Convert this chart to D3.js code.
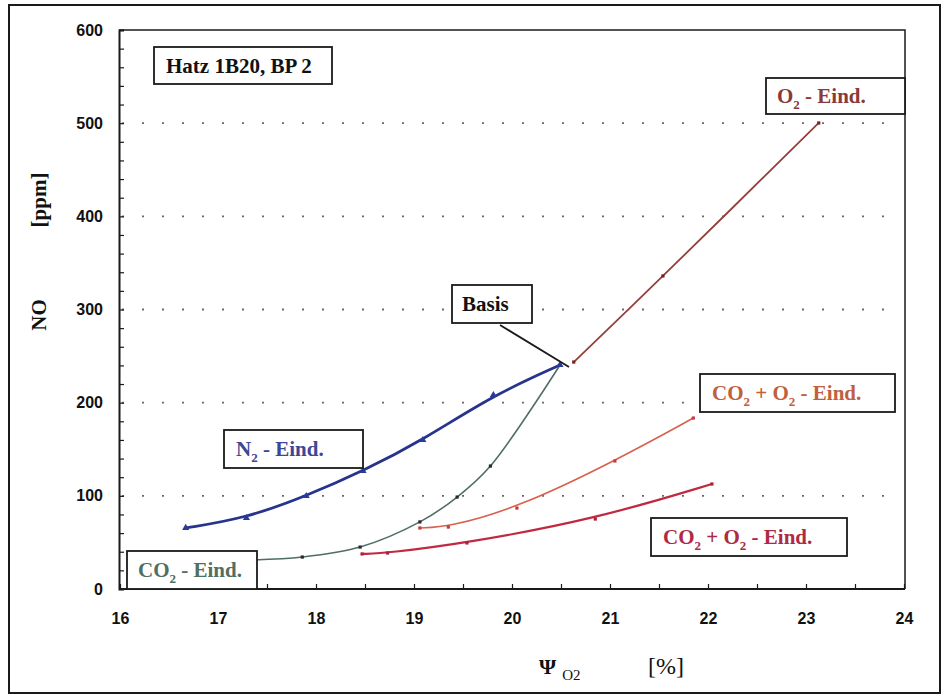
<!DOCTYPE html>
<html>
<head>
<meta charset="utf-8">
<script src="https://cdn.jsdelivr.net/npm/d3@7"></script>
<style>
  html, body { margin: 0; padding: 0; background: #fff; }
  svg { display: block; }
  .serif { font-family: "Liberation Serif", "DejaVu Serif", serif; }
  .sans { font-family: "Liberation Sans", Arial, sans-serif; }
</style>
</head>
<body>
<svg id="chart" width="943" height="697"></svg>
<script>
// NO emission vs. intake O2 concentration, Hatz 1B20, operating point 2

// axis ticks
const xMajorTicks = [16, 17, 18, 19, 20, 21, 22, 23, 24];
const yMajorTicks = [0, 100, 200, 300, 400, 500, 600];
const gridValues = [100, 200, 300, 400, 500];

// N2 enrichment
const n2X = [16.67, 17.29, 17.90, 18.48, 19.09, 19.81, 20.49];
const n2Y = [65.5, 76.2, 99.8, 126.6, 159.9, 208.2, 240.4];

// CO2 enrichment
const co2X = [17.30, 17.86, 18.45, 19.06, 19.44, 19.78, 20.49];
const co2Y = [31.0, 34.3, 45.0, 72.0, 98.7, 132.0, 240.4];

// O2 enrichment
const o2X = [20.63, 21.54, 23.13];
const o2Y = [243.6, 336.0, 500.2];

// CO2 + O2 enrichment, upper branch
const co2o2aX = [19.06, 19.35, 20.05, 21.05, 21.85];
const co2o2aY = [65.5, 66.5, 86.9, 137.4, 183.5];

// CO2 + O2 enrichment, lower branch
const co2o2bX = [18.47, 18.73, 19.54, 20.85, 22.04];
const co2o2bY = [37.6, 38.6, 49.4, 75.1, 112.7];

const zip = (xs, ys) => xs.map((x, i) => ({ x, y: ys[i] }));

const smooth = d3.curveCatmullRom.alpha(0.5);
const series = [
  { key: "co2",    pts: zip(co2X, co2Y),       curve: smooth,         color: "#4f6f60", width: 1.6, marker: "dot", markerColor: "#2a2a2a" },
  { key: "co2o2a", pts: zip(co2o2aX, co2o2aY), curve: d3.curveBasis,  color: "#d8604e", width: 1.6, marker: "dot", markerColor: "#c8383a" },
  { key: "co2o2b", pts: zip(co2o2bX, co2o2bY), curve: d3.curveBasis,  color: "#bf2a40", width: 2.2, marker: "dot", markerColor: "#b0203a" },
  { key: "o2",     pts: zip(o2X, o2Y),         curve: smooth,         color: "#93403a", width: 1.8, marker: "dot", markerColor: "#7a1f22" },
  { key: "n2",     pts: zip(n2X, n2Y),         curve: d3.curveBasis,  color: "#27348c", width: 2.8, marker: "tri", markerColor: "#2a3a9a" }
];

const svg = d3.select("#chart");

const plot = { left: 119, right: 905, top: 30, bottom: 589 };
const x = d3.scaleLinear().domain([16, 24]).range([120, 904]);
const y = d3.scaleLinear().domain([0, 600]).range([plot.bottom, plot.top]);

// outer frame
svg.append("rect")
  .attr("x", 9).attr("y", 5).attr("width", 931).attr("height", 688)
  .attr("fill", "none").attr("stroke", "#1a1a1a").attr("stroke-width", 2);

// dotted grid
svg.append("g").selectAll("line").data(gridValues).join("line")
  .attr("x1", plot.left + 3).attr("x2", plot.right - 6)
  .attr("y1", d => y(d)).attr("y2", d => y(d))
  .attr("stroke", "#6a6a6a").attr("stroke-width", 1.8)
  .attr("stroke-dasharray", "2,18");

// plot frame top/right
svg.append("path")
  .attr("d", `M${plot.left},${plot.top}H${plot.right}V${plot.bottom}`)
  .attr("fill", "none").attr("stroke", "#1a1a1a").attr("stroke-width", 1.5);

// y axis
const yMinor = d3.range(0, 601, 20);
const yAxis = svg.append("g")
  .attr("transform", `translate(${plot.left},0)`)
  .call(d3.axisLeft(y).tickValues(yMinor).tickSize(-5).tickPadding(16)
    .tickFormat(d => yMajorTicks.includes(d) ? d : ""));
yAxis.select(".domain").attr("stroke", "#1a1a1a").attr("stroke-width", 2);
yAxis.selectAll(".tick line").attr("stroke", "#1a1a1a").attr("stroke-width", 1.2);
yAxis.selectAll(".tick text")
  .attr("class", "sans").attr("font-size", 16).attr("font-weight", "bold").attr("fill", "#111");

// x axis
const xMinor = d3.range(16, 24.01, 0.5);
const xAxis = svg.append("g")
  .attr("transform", `translate(0,${plot.bottom})`)
  .call(d3.axisBottom(x).tickValues(xMinor).tickSize(-5).tickPadding(24)
    .tickFormat(d => xMajorTicks.includes(d) ? d : ""));
xAxis.select(".domain").attr("stroke", "#1a1a1a").attr("stroke-width", 2)
  .attr("d", `M${plot.left},0H${plot.right}`);
xAxis.selectAll(".tick line").attr("stroke", "#1a1a1a").attr("stroke-width", 1.2);
xAxis.selectAll(".tick text")
  .attr("class", "sans").attr("font-size", 16).attr("font-weight", "bold").attr("fill", "#111");

// smoothed trend curves through the measured points
const curves = svg.append("g");
series.forEach(s => {
  const line = d3.line().x(d => x(d.x)).y(d => y(d.y)).curve(s.curve);
  curves.append("path").datum(s.pts)
    .attr("d", line).attr("fill", "none")
    .attr("stroke", s.color).attr("stroke-width", s.width)
    .attr("stroke-linejoin", "round").attr("stroke-linecap", "round");
});

// markers
const tri = d3.symbol().type(d3.symbolTriangle).size(22);
series.forEach(s => {
  const g = svg.append("g");
  if (s.marker === "tri") {
    g.selectAll("path").data(s.pts).join("path")
      .attr("d", tri).attr("transform", d => `translate(${x(d.x)},${y(d.y)})`)
      .attr("fill", s.markerColor);
  } else {
    g.selectAll("rect").data(s.pts).join("rect")
      .attr("x", d => x(d.x) - 1.6).attr("y", d => y(d.y) - 1.6)
      .attr("width", 3.2).attr("height", 3.2)
      .attr("fill", s.markerColor);
  }
});

// pointer to the base operating point
const basis = n2X.length - 1;
svg.append("line")
  .attr("x1", 500).attr("y1", 325)
  .attr("x2", x(n2X[basis]) + 9).attr("y2", y(n2Y[basis]) + 2)
  .attr("stroke", "#1a1a1a").attr("stroke-width", 1.8);

// labelled boxes; parts with "sub" are set as subscripts
function labelBox(bx, by, bw, bh, color, size, parts, tx) {
  const g = svg.append("g");
  g.append("rect").attr("x", bx).attr("y", by).attr("width", bw).attr("height", bh)
    .attr("fill", "#fff").attr("stroke", "#1a1a1a").attr("stroke-width", 1.8);
  const t = g.append("text").attr("class", "serif")
    .attr("x", tx).attr("y", by + bh / 2 + size * 0.34)
    .attr("font-size", size).attr("font-weight", "bold").attr("fill", color);
  const shift = size * 0.28;
  let lowered = false;
  parts.forEach(p => {
    if (p.sub) {
      t.append("tspan").attr("font-size", size * 0.62).attr("dy", shift).text(p.sub);
      lowered = true;
    } else {
      const ts = t.append("tspan").text(p.t);
      if (lowered) { ts.attr("dy", -shift); lowered = false; }
    }
  });
}

labelBox(154, 47, 178, 37, "#111", 21, [{ t: "Hatz 1B20, BP 2" }], 166);
labelBox(224, 430, 139, 38, "#3c4896", 21, [{ t: "N" }, { sub: "2" }, { t: " - Eind." }], 236);
labelBox(127, 551, 130, 38, "#4f6f60", 21, [{ t: "CO" }, { sub: "2" }, { t: " - Eind." }], 138);
labelBox(766, 78, 139, 36, "#8a3a38", 21, [{ t: "O" }, { sub: "2" }, { t: " - Eind." }], 777);
labelBox(700, 374, 195, 38, "#c0603e", 21, [{ t: "CO" }, { sub: "2" }, { t: " + O" }, { sub: "2" }, { t: " - Eind." }], 712);
labelBox(651, 518, 196, 38, "#b02a44", 21, [{ t: "CO" }, { sub: "2" }, { t: " + O" }, { sub: "2" }, { t: " - Eind." }], 663);
labelBox(452, 285, 80, 38, "#111", 21, [{ t: "Basis" }], 462);

// y axis title
svg.append("text").attr("class", "serif")
  .attr("transform", "translate(46,315) rotate(-90)")
  .attr("text-anchor", "middle").attr("font-size", 21).attr("font-weight", "bold")
  .attr("fill", "#111").text("NO");
svg.append("text").attr("class", "serif")
  .attr("transform", "translate(46,200) rotate(-90)")
  .attr("text-anchor", "middle").attr("font-size", 21).attr("font-weight", "bold")
  .attr("fill", "#111").text("[ppm]");

// x axis title
const xt = svg.append("text").attr("class", "serif")
  .attr("x", 539).attr("y", 674).attr("font-size", 22).attr("font-weight", "bold").attr("fill", "#111");
xt.append("tspan").text("Ψ");
xt.append("tspan").attr("font-size", 15).attr("font-weight", "normal").attr("dx", 6).attr("dy", 6).text("O2");
svg.append("text").attr("class", "serif")
  .attr("x", 666).attr("y", 674).attr("text-anchor", "middle")
  .attr("font-size", 24).attr("fill", "#111").text("[%]");
</script>
</body>
</html>
